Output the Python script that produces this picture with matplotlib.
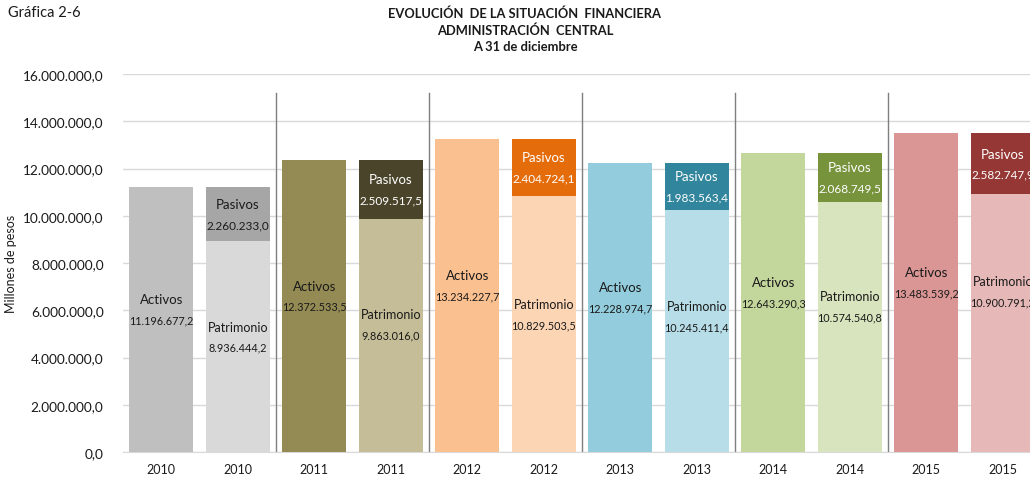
import matplotlib.pyplot as plt

# data (millones de pesos)
years = ['2010', '2011', '2012', '2013', '2014', '2015']
activos = [11196677.2, 12372533.5, 13234227.7, 12228974.7, 12643290.3, 13483539.2]
patrimonio = [8936444.2, 9863016.0, 10829503.5, 10245411.4, 10574540.8, 10900791.2]
pasivos = [2260233.0, 2509517.5, 2404724.1, 1983563.4, 2068749.5, 2582747.9]

col_act = ['#BFBFBF', '#948A54', '#FAC090', '#93CDDD', '#C3D69B', '#D99694']
col_pat = ['#D9D9D9', '#C4BD97', '#FCD5B5', '#B7DEE8', '#D7E4BD', '#E6B9B8']
col_pas = ['#A6A6A6', '#4A452A', '#E46C0A', '#31859C', '#77933C', '#953735']
txt_pas = ['#1A1A1A', 'white', 'white', 'white', 'white', 'white']
# small vertical nudges for the Patrimonio labels (as in the original)
pat_nudge = [0.40e6, 0.47e6, 0.42e6, 0.63e6, 0.89e6, 1.35e6]


def fmt(v):
    s = f"{v:,.1f}"
    return s.replace(',', 'X').replace('.', ',').replace('X', '.')


def label(ax, x, y, name, value, color, fs_name, fs_val):
    # two-line label: series name above, value below
    ax.annotate(name, (x, y), xytext=(0, 7.5), textcoords='offset points',
                ha='center', va='center', fontsize=fs_name, color=color, zorder=4)
    ax.annotate(value, (x, y), xytext=(0, -7.5), textcoords='offset points',
                ha='center', va='center', fontsize=fs_val, color=color, zorder=4)


plt.rcParams['font.family'] = ['Lato', 'DejaVu Sans']

fig = plt.figure(figsize=(10.30, 4.81), dpi=100)
ax = fig.add_axes([123 / 1030, 28 / 481, 918 / 1030, 378 / 481])

w = 0.84
xs_act = [2 * i for i in range(len(years))]
xs_pat = [2 * i + 1 for i in range(len(years))]

ax.bar(xs_act, activos, width=w, color=col_act, zorder=3)
ax.bar(xs_pat, patrimonio, width=w, color=col_pat, zorder=3)
ax.bar(xs_pat, pasivos, width=w, bottom=patrimonio, color=col_pas, zorder=3)

off = 0.42e6
for i in range(len(years)):
    label(ax, xs_act[i], activos[i] / 2 + off, 'Activos', fmt(activos[i]),
          '#1A1A1A', 9.5, 7.8)
    label(ax, xs_pat[i], patrimonio[i] / 2 + pat_nudge[i], 'Patrimonio', fmt(patrimonio[i]),
          '#1A1A1A', 9, 7.8)
    label(ax, xs_pat[i], patrimonio[i] + pasivos[i] / 2, 'Pasivos', fmt(pasivos[i]),
          txt_pas[i], 9.5, 8.5)

# separators between years
for i in range(1, len(years)):
    ax.plot([2 * i - 0.5, 2 * i - 0.5], [0, 15.2e6], color='#7F7F7F', lw=1, zorder=2)

ax.set_xlim(-0.5, 2 * len(years) - 0.5)
ax.set_ylim(0, 16e6)
ax.set_yticks([k * 2e6 for k in range(9)])
ax.set_yticklabels([fmt(k * 2e6) for k in range(9)], fontsize=9.8, color='#1A1A1A')
ax.set_xticks(xs_act + xs_pat)
ax.set_xticklabels(years + years, fontsize=9, color='#1A1A1A')
ax.tick_params(length=0, pad=8)
ax.tick_params(axis='y', pad=14)
ax.yaxis.grid(True, color='#D9D9D9', lw=1, zorder=0)
for s in ['top', 'right', 'left']:
    ax.spines[s].set_visible(False)
ax.spines['bottom'].set_color('#D9D9D9')
ax.set_ylabel('Millones de pesos', fontsize=9, color='#1A1A1A', labelpad=4)

fig.text(8 / 1030, 1 - 13 / 481, 'Gráfica 2-6', fontsize=10.5, va='center', color='#1A1A1A')
fig.text(525 / 1030, 1 - 30 / 481,
         'EVOLUCIÓN  DE LA SITUACIÓN  FINANCIERA\nADMINISTRACIÓN  CENTRAL\nA 31 de diciembre',
         ha='center', va='center', fontsize=9.3, fontweight='bold', linespacing=1.4, color='#1A1A1A')

fig.savefig('out.png', dpi=100)
plt.close()
